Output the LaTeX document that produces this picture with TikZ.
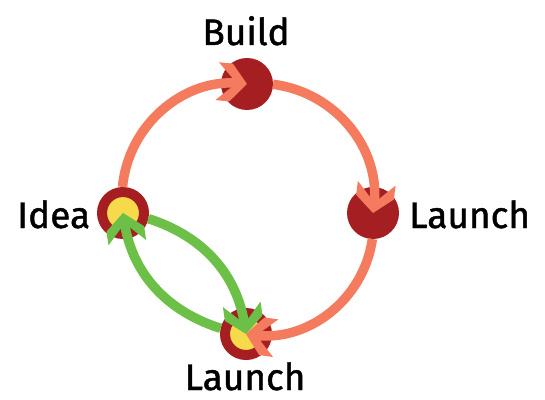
\documentclass[tikz,border=0pt]{standalone}
\usepackage{fontspec}
\setmainfont{Fira Sans}[FakeBold=1.2]
\usetikzlibrary{arrows.meta}

\definecolor{ringred}{HTML}{A51E22}
\definecolor{coreyellow}{HTML}{F7DA4C}
\definecolor{flowsalmon}{HTML}{F47B5E}
\definecolor{loopgreen}{HTML}{6CBF47}

% chunky chevron head with flat-cut wings
\pgfdeclarearrow{
  name = Chevron,
  setup code = {
    \pgfarrowssettipend{0pt}
    \pgfarrowssetlineend{-8pt}
    \pgfarrowssetbackend{-30pt}
    \pgfarrowshullpoint{0pt}{0pt}
    \pgfarrowshullpoint{-30pt}{19pt}
    \pgfarrowshullpoint{-30pt}{-19pt}
  },
  drawing code = {
    \pgfpathmoveto{\pgfqpoint{0pt}{0pt}}
    \pgfpathlineto{\pgfqpoint{-16pt}{19pt}}
    \pgfpathlineto{\pgfqpoint{-30pt}{19pt}}
    \pgfpathlineto{\pgfqpoint{-15pt}{4.5pt}}
    \pgfpathlineto{\pgfqpoint{-15pt}{-4.5pt}}
    \pgfpathlineto{\pgfqpoint{-30pt}{-19pt}}
    \pgfpathlineto{\pgfqpoint{-16pt}{-19pt}}
    \pgfpathclose
    \pgfusepathqfill
  }
}

\begin{document}
\begin{tikzpicture}[x=1pt,y=1pt,
  stage/.style={circle, fill=ringred, minimum size=52pt, inner sep=0pt, outer sep=0pt},
  hub/.style={circle, fill=coreyellow, draw=ringred, line width=10pt,
              minimum size=42pt, inner sep=0pt},
  label/.style={font=\fontsize{37}{40}\selectfont, inner sep=0pt},
  flow/.style={draw=flowsalmon, line width=9.5pt, -Chevron},
  loop/.style={draw=loopgreen, line width=9.5pt, -Chevron}]

  \useasboundingbox (0,0) rectangle (545,399);

  % stages of the cycle
  \node[hub]   (idea)   at (123,186) {};
  \node[stage] (build)  at (247,315) {};
  \node[stage] (launch) at (373,186) {};
  \node[hub]   (ship)   at (246,65)  {};

  % labels
  \node[label, anchor=base]      (tbuild)  at (246,354) {Build};
  \node[label, anchor=base west] (tlaunch) at (409,171) {Launch};
  \node[label, anchor=base west] (tidea)   at (17,171)  {Idea};
  \node[label, anchor=base]      (tship)   at (245,9)   {Launch};

  % outer cycle
  \draw[flow] (idea)   to[bend left=45] (build.center);
  \draw[flow] (build)  to[bend left=45] (launch.center);
  \draw[flow] (launch) to[bend left=45] (ship.center);

  % inner feedback loop
  \draw[loop] (idea) to[bend left=32] (ship.center);
  \draw[loop] (ship) to[bend left=32] (idea.center);
\end{tikzpicture}
\end{document}
